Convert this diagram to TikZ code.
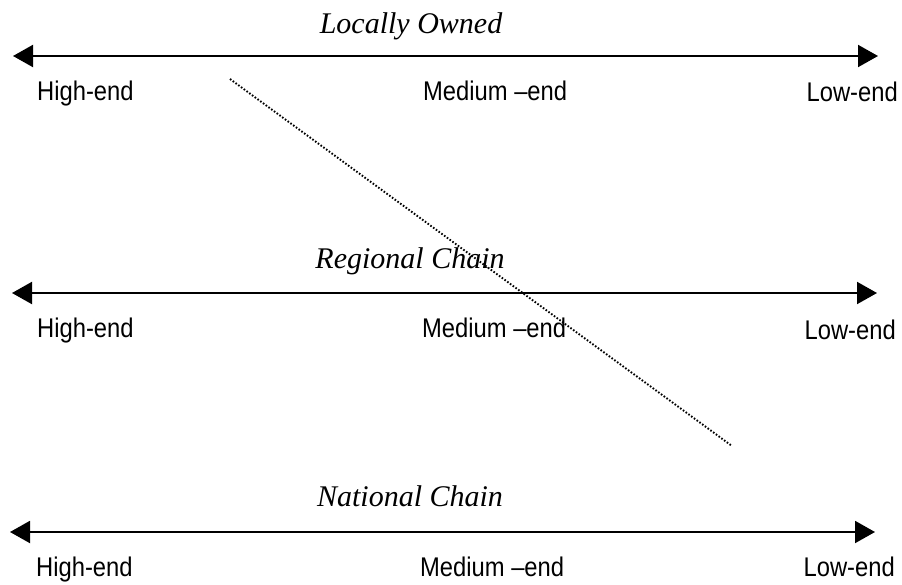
\documentclass[tikz,border=0pt]{standalone}
\usepackage{fontspec}
\setmainfont{Liberation Serif}
\newfontfamily\labfont[FakeStretch=0.88]{Liberation Sans}
\usetikzlibrary{arrows.meta}
\begin{document}
\begin{tikzpicture}[x=1pt,y=-1pt,
  axis/.style={line width=2pt,{Triangle[length=20pt,width=22pt]}-{Triangle[length=20pt,width=22pt]}},
  endlabel/.style={inner sep=0pt,font=\labfont\fontsize{27}{30}\selectfont},
  title/.style={inner sep=0pt,anchor=base,font=\rmfamily\itshape\fontsize{30}{34}\selectfont},
  dotline/.style={line width=1.9pt,dash pattern=on 1.6pt off 1.8pt}]
\useasboundingbox (0,0) rectangle (902,584);
% top row
\node[title] (tLoc) at (411,33) {Locally Owned};
\coordinate (aL) at (13,56);
\coordinate (aR) at (878,56);
\draw[axis] (aL) -- (aR);
\node[endlabel,anchor=base west] (aHigh) at (37,100) {High-end};
\node[endlabel,anchor=base west] (aMed) at (423,100) {Medium \textendash end};
\node[endlabel,anchor=base east] (aLow) at (898,101) {Low-end};
% middle row
\node[title] (tReg) at (410,268) {Regional Chain};
\coordinate (bL) at (12,293);
\coordinate (bR) at (877,293);
\draw[axis] (bL) -- (bR);
\node[endlabel,anchor=base west] (bHigh) at (37,337) {High-end};
\node[endlabel,anchor=base west] (bMed) at (422,337) {Medium \textendash end};
\node[endlabel,anchor=base east] (bLow) at (896,339) {Low-end};
% bottom row
\node[title] (tNat) at (410,506) {National Chain};
\coordinate (cL) at (10,532);
\coordinate (cR) at (875,532);
\draw[axis] (cL) -- (cR);
\node[endlabel,anchor=base west] (cHigh) at (36,576) {High-end};
\node[endlabel,anchor=base west] (cMed) at (420,576) {Medium \textendash end};
\node[endlabel,anchor=base east] (cLow) at (895,576) {Low-end};
% dotted diagonal
\coordinate (dS) at (230,79);
\coordinate (dE) at (732,446);
\draw[dotline] (dS) -- (dE);
\end{tikzpicture}
\end{document}
